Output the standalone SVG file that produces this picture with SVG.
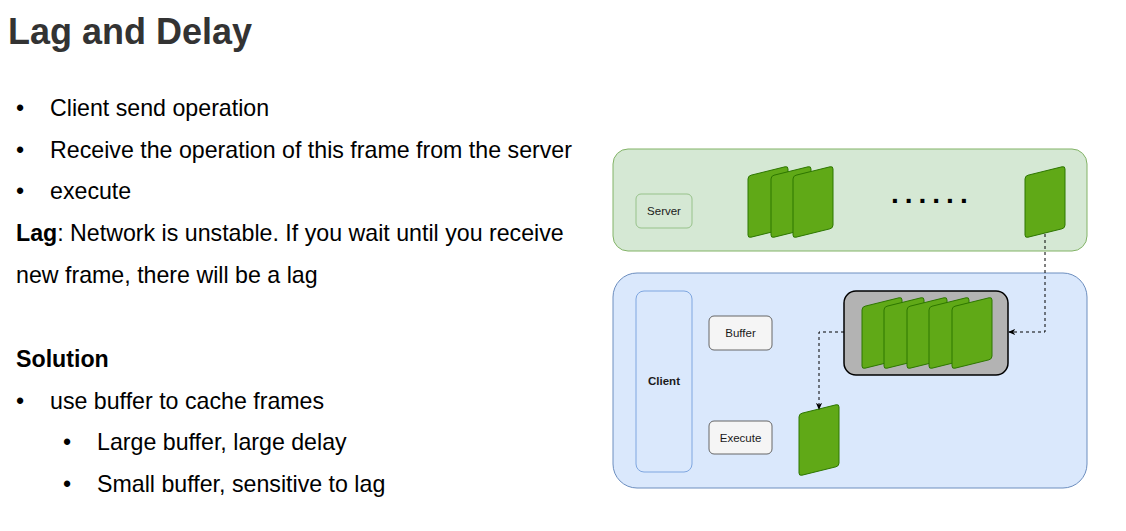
<svg xmlns="http://www.w3.org/2000/svg" xmlns:xlink="http://www.w3.org/1999/xlink" width="1126" height="531" viewBox="0 0 1126 531">
  <style>
    .title { font-family: "Liberation Sans", Arial, sans-serif; font-size: 36px; font-weight: bold; fill: #333333; }
    .body { font-family: "Liberation Sans", Arial, sans-serif; font-size: 23.2px; fill: #000000; }
    .b { font-weight: bold; }
    .lbl { font-family: "Liberation Sans", Arial, sans-serif; font-size: 11.5px; fill: #1a1a1a; text-anchor: middle; dominant-baseline: central; }
    .card { fill: #60a917; stroke: #2d7600; stroke-width: 1; }
    .link { fill: none; stroke: #000000; stroke-width: 1; stroke-dasharray: 3 3; }
  </style>
  <defs>
    <!-- skewed frame card: vertical sides, slanted top and bottom -->
    <path id="card" d="M0,13 Q0,10 3,9.2 L37,0.8 Q40,0 40,3 L40,59 Q40,62 37,62.8 L3,71.2 Q0,72 0,69 Z"/>
    <marker id="arrow" viewBox="0 0 8 8" refX="7" refY="4" markerWidth="7" markerHeight="7" orient="auto" markerUnits="userSpaceOnUse">
      <path d="M0,0.5 L8,4 L0,7.5 L2,4 Z" fill="#000000"/>
    </marker>
  </defs>

  <rect width="1126" height="531" fill="#ffffff"/>

  <!-- slide text -->
  <g id="slide-text">
    <text class="title" x="8" y="44">Lag and Delay</text>
    <text class="body" x="16" y="116">•</text>
    <text class="body" x="50" y="116">Client send operation</text>
    <text class="body" x="16" y="158">•</text>
    <text class="body" x="50" y="158">Receive the operation of this frame from the server</text>
    <text class="body" x="16" y="199">•</text>
    <text class="body" x="50" y="199">execute</text>
    <text class="body" x="16" y="241"><tspan class="b">Lag</tspan>: Network is unstable. If you wait until you receive</text>
    <text class="body" x="16" y="283">new frame, there will be a lag</text>
    <text class="body b" x="16" y="367">Solution</text>
    <text class="body" x="16" y="409">•</text>
    <text class="body" x="50" y="409">use buffer to cache frames</text>
    <text class="body" x="63" y="450">•</text>
    <text class="body" x="97" y="450">Large buffer, large delay</text>
    <text class="body" x="63" y="492">•</text>
    <text class="body" x="97" y="492">Small buffer, sensitive to lag</text>
  </g>

  <!-- server lane -->
  <g id="server-lane">
    <rect x="613" y="149" width="474" height="102" rx="15" fill="#d5e8d4" stroke="#82b366" stroke-width="1"/>
  </g>
  <g id="server-label">
    <rect x="636" y="194" width="56" height="34" rx="5" fill="#d5e8d4" stroke="#97c28a" stroke-width="1"/>
    <text class="lbl" x="664" y="211">Server</text>
  </g>
  <g id="server-frames">
    <use xlink:href="#card" class="card" x="748" y="166"/>
    <use xlink:href="#card" class="card" x="771" y="166"/>
    <use xlink:href="#card" class="card" x="793" y="166"/>
  </g>
  <g id="ellipsis">
    <text x="891" y="203" font-family="'Liberation Sans', Arial, sans-serif" font-size="28" font-weight="bold" letter-spacing="6" fill="#000000">......</text>
  </g>
  <g id="server-latest-frame">
    <use xlink:href="#card" class="card" x="1025" y="166"/>
  </g>

  <!-- client lane -->
  <g id="client-lane">
    <rect x="613" y="273" width="474" height="215" rx="24" fill="#dae8fc" stroke="#6c8ebf" stroke-width="1"/>
  </g>
  <g id="client-label">
    <rect x="636" y="291" width="56" height="181" rx="8" fill="#dae8fc" stroke="#7ea6e0" stroke-width="1"/>
    <text class="lbl b" x="664" y="381">Client</text>
  </g>
  <g id="buffer-label">
    <rect x="709" y="316" width="63" height="34" rx="5" fill="#f5f5f5" stroke="#666666" stroke-width="1"/>
    <text class="lbl" x="740.5" y="333" fill="#333333">Buffer</text>
  </g>
  <g id="execute-label">
    <rect x="709" y="421" width="63" height="33" rx="5" fill="#f5f5f5" stroke="#666666" stroke-width="1"/>
    <text class="lbl" x="740.5" y="437.5" fill="#333333">Execute</text>
  </g>
  <g id="frame-buffer">
    <rect x="844" y="291" width="164" height="84" rx="12" fill="#b3b3b3" stroke="#000000" stroke-width="1.5"/>
    <use xlink:href="#card" class="card" x="862" y="297"/>
    <use xlink:href="#card" class="card" x="884" y="297"/>
    <use xlink:href="#card" class="card" x="907" y="297"/>
    <use xlink:href="#card" class="card" x="929" y="297"/>
    <use xlink:href="#card" class="card" x="952" y="297"/>
  </g>
  <g id="executing-frame">
    <use xlink:href="#card" class="card" x="799" y="404"/>
  </g>

  <!-- connectors -->
  <g id="connectors">
    <path class="link" d="M1045,234 L1045,332 L1009,332" marker-end="url(#arrow)"/>
    <path class="link" d="M844,332 L819,332 L819,409" marker-end="url(#arrow)"/>
  </g>
</svg>
